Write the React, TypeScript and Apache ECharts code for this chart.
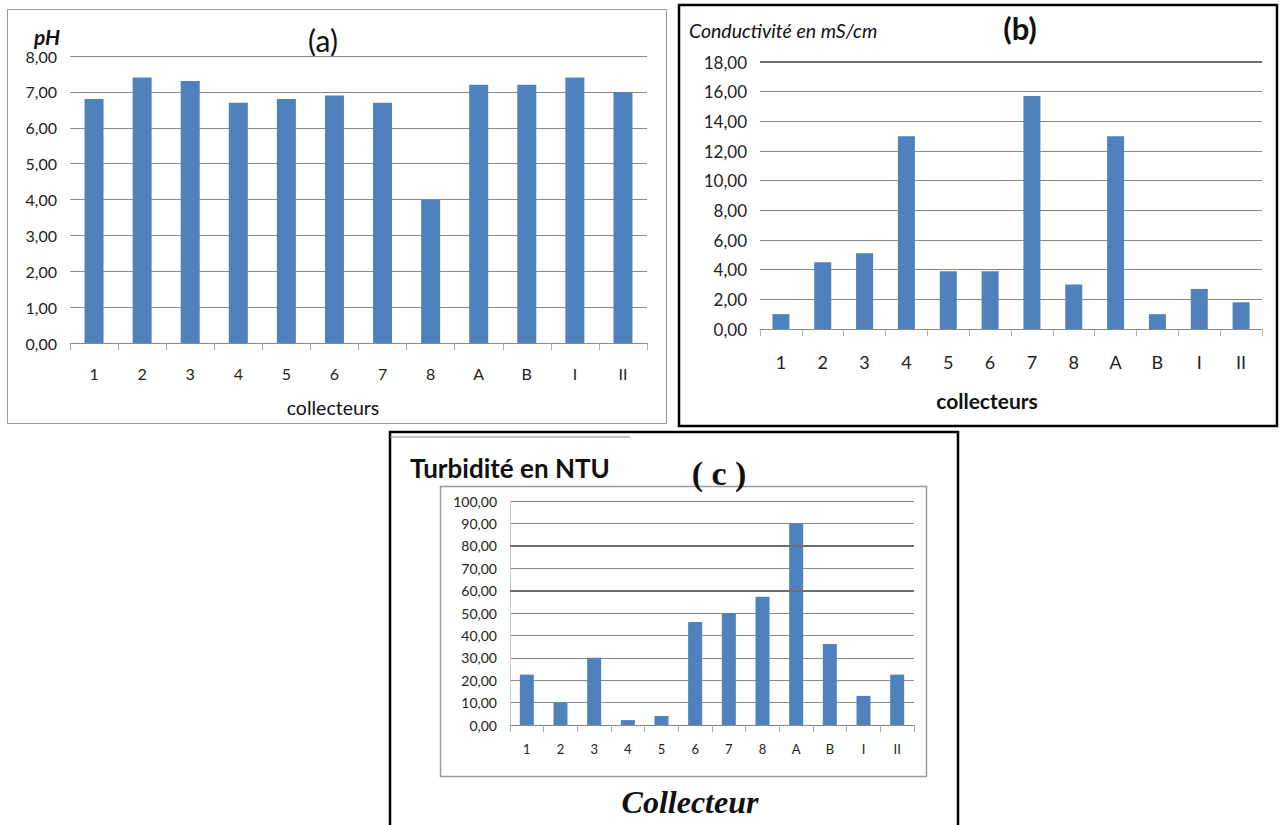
import React, { useEffect, useRef } from "react";
import * as echarts from "echarts";

const categories = ["1", "2", "3", "4", "5", "6", "7", "8", "A", "B", "I", "II"];
const phValues = [6.8, 7.4, 7.3, 6.7, 6.8, 6.9, 6.7, 4.0, 7.2, 7.2, 7.4, 7.0];
const conductValues = [1.0, 4.5, 5.1, 13.0, 3.9, 3.9, 15.7, 3.0, 13.0, 1.0, 2.7, 1.8];
const turbValues = [22.5, 10.0, 30.0, 2.2, 4.0, 46.0, 50.0, 57.3, 90.0, 36.2, 13.0, 22.5];

const BAR = "#4F81BD";
const GRID = "#8a8a8a";
const SANS = "Lato";
const SERIF = "Liberation Serif";

const fmt = (v: number) => v.toFixed(2).replace(".", ",");

function txt(
  x: number,
  y: number,
  text: string,
  fontSize: number,
  fontWeight: string,
  fontStyle: string,
  fontFamily: string,
  align: string = "center"
) {
  return {
    type: "text",
    x,
    y,
    silent: true,
    style: { text, fontSize, fontWeight, fontStyle, fontFamily, fill: "#111", align, verticalAlign: "middle" },
  };
}

export default function App() {
  const ref = useRef<HTMLDivElement>(null);
  useEffect(() => {
    document.body.style.margin = "0";
    const chart = echarts.init(ref.current!, undefined, { renderer: "svg" });
    const xAxisBase = (gridIndex: number, fontSize: number, margin: number) => ({
      type: "category" as const,
      gridIndex,
      data: categories,
      axisLine: { show: true, lineStyle: { color: GRID, width: 1 } },
      axisTick: { show: true, alignWithLabel: false, length: 7, lineStyle: { color: "#aaaaaa" } },
      axisLabel: { fontSize, color: "#222", fontFamily: SANS, margin },
    });
    const yAxisBase = (gridIndex: number, max: number, interval: number, fontSize: number, showLine: boolean) => ({
      type: "value" as const,
      gridIndex,
      min: 0,
      max,
      interval,
      axisLine: { show: showLine, lineStyle: { color: "#c8c8c8" } },
      axisTick: { show: false },
      splitLine: { show: true, lineStyle: { color: GRID, width: 1 } },
      axisLabel: {
        fontSize,
        color: "#222",
        fontFamily: SANS,
        margin: 13,
        formatter: (v: number) => fmt(v),
      },
    });
    const dark = (vals: number[]) => ({
      silent: true,
      symbol: "none",
      label: { show: false },
      lineStyle: { color: "#6e6e6e", width: 2, type: "solid" as const },
      data: vals.map((v) => ({ yAxis: v })),
    });

    chart.setOption({
      animation: false,
      backgroundColor: "#ffffff",
      grid: [
        { left: 70, top: 56, width: 577, height: 287 },
        { left: 760, top: 62, width: 502, height: 267 },
        { left: 510, top: 501, width: 404, height: 224 },
      ],
      xAxis: [xAxisBase(0, 16, 22), xAxisBase(1, 18, 24), xAxisBase(2, 13, 17)],
      yAxis: [
        yAxisBase(0, 8, 1, 16, false),
        yAxisBase(1, 18, 2, 17, false),
        yAxisBase(2, 100, 10, 14, true),
      ],
      series: [
        {
          type: "bar",
          xAxisIndex: 0,
          yAxisIndex: 0,
          data: phValues,
          barWidth: 19,
          itemStyle: { color: BAR },
        },
        {
          type: "bar",
          xAxisIndex: 1,
          yAxisIndex: 1,
          data: conductValues,
          barWidth: 17,
          itemStyle: { color: BAR },
          markLine: dark([18]),
        },
        {
          type: "bar",
          xAxisIndex: 2,
          yAxisIndex: 2,
          data: turbValues,
          barWidth: 14,
          itemStyle: { color: BAR },
          markLine: dark([60, 80]),
        },
      ],
      graphic: [
        {
          type: "rect",
          shape: { x: 7.5, y: 9.5, width: 659, height: 414 },
          style: { fill: "none", stroke: "#9a9a9a", lineWidth: 1 },
          silent: true,
        },
        {
          type: "rect",
          shape: { x: 679, y: 5, width: 598, height: 421 },
          style: { fill: "none", stroke: "#000", lineWidth: 2.5 },
          silent: true,
        },
        {
          type: "polyline",
          shape: { points: [[390, 826], [390, 432], [958, 432], [958, 826]] },
          style: { fill: "none", stroke: "#000", lineWidth: 2.5 },
          silent: true,
        },
        {
          type: "line",
          shape: { x1: 390, y1: 437, x2: 630, y2: 437 },
          style: { stroke: "#8a8a8a", lineWidth: 1 },
          silent: true,
        },
        {
          type: "rect",
          shape: { x: 440.5, y: 486.5, width: 486, height: 290 },
          style: { fill: "none", stroke: "#9a9a9a", lineWidth: 1.5 },
          silent: true,
        },
        txt(47, 36, "pH", 21, "bold", "italic", SANS),
        txt(323, 40, "(a)", 30, "normal", "normal", SANS),
        txt(333, 407, "collecteurs", 19.5, "normal", "normal", SANS),
        txt(689, 30, "Conductivité en mS/cm", 19.5, "normal", "italic", SANS, "left"),
        txt(1020, 28, "(b)", 31, "bold", "normal", SANS),
        txt(987, 400, "collecteurs", 21, "bold", "normal", SANS),
        txt(410, 468, "Turbidité en NTU", 26, "bold", "normal", SANS, "left"),
        txt(719, 473, "( c )", 34, "bold", "normal", SERIF),
        txt(690, 802, "Collecteur", 32, "bold", "italic", SERIF),
      ],
    });
    return () => chart.dispose();
  }, []);
  return <div ref={ref} style={{ position: "absolute", left: 0, top: 0, width: 1280, height: 825 }} />;
}
